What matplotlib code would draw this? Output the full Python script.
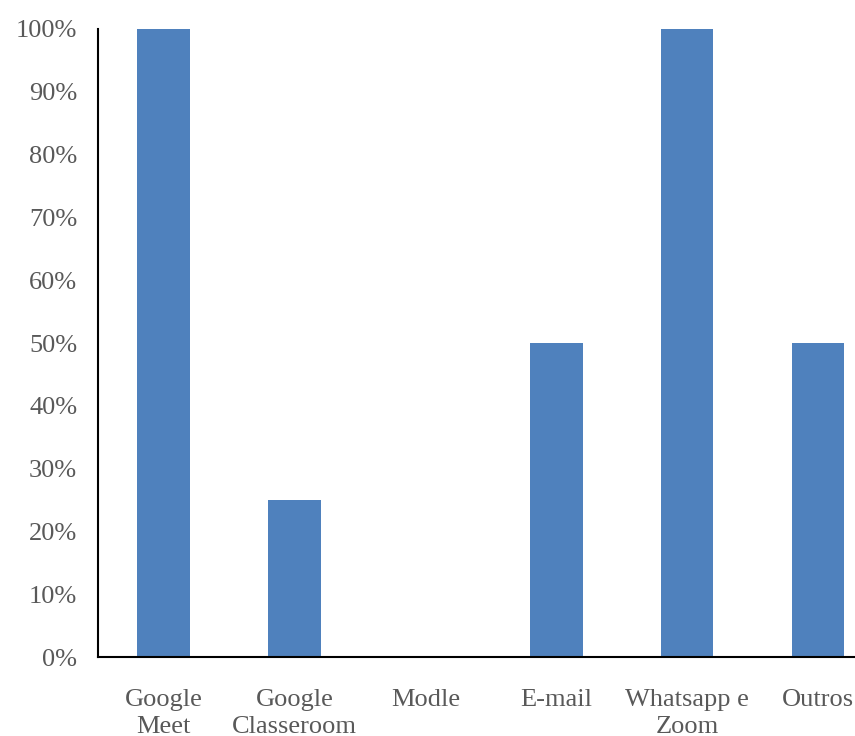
import matplotlib.pyplot as plt
import numpy as np

categorias = ["Google\nMeet", "Google\nClasseroom", "Modle", "E-mail", "Whatsapp e\nZoom", "Outros"]
valores = [100, 25, 0, 50, 100, 50]
yticks = [0, 10, 20, 30, 40, 50, 60, 70, 80, 90, 100]

plt.rcParams['font.family'] = ['Liberation Serif', 'DejaVu Serif']

fig = plt.figure(figsize=(8.55, 7.36), dpi=100)
ax = fig.add_axes([0.1146, 0.1073, 0.919, 0.8533])

x = np.arange(len(categorias))
ax.bar(x, valores, width=0.4, color='#4F81BD')

ax.set_xlim(-0.5, len(categorias) - 0.5)
ax.set_ylim(0, 100)
ax.set_yticks(yticks)
ax.set_yticklabels([f"{v}%" for v in yticks], fontsize=19, color='#595959')
ax.set_xticks(x)
ax.set_xticklabels(categorias, fontsize=19, color='#595959', linespacing=1.3)
ax.tick_params(axis='both', length=0)
ax.tick_params(axis='x', pad=23)
ax.tick_params(axis='y', pad=15)

for s in ['top', 'right']:
    ax.spines[s].set_visible(False)
for s in ['left', 'bottom']:
    ax.spines[s].set_color('black')
    ax.spines[s].set_linewidth(1.5)

fig.savefig('out.png', dpi=100)
